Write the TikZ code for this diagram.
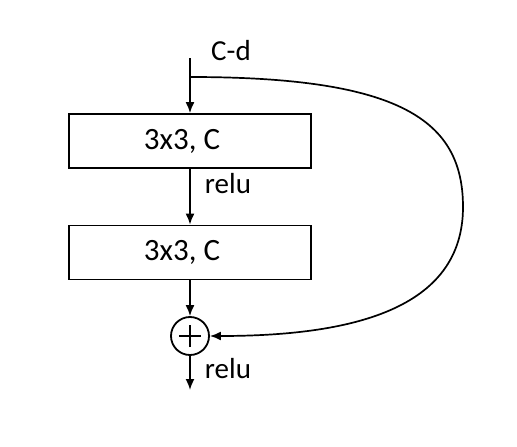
\documentclass[tikz,border=0pt]{standalone}
\usepackage{fontspec}
\setmainfont{Carlito}
\usetikzlibrary{arrows.meta}
\begin{document}
\begin{tikzpicture}[x=1pt,y=-1pt,
  line width=1.7pt,
  arr/.style={-{Latex[length=11pt,width=9pt]}},
  convbox/.style={draw,line width=1.8pt,minimum width=242pt,minimum height=54pt,inner sep=0pt,font=\fontsize{31}{36}\selectfont},
  lbl/.style={inner sep=0pt,font=\fontsize{29}{34}\selectfont},
  sumnode/.style={draw,circle,line width=1.8pt,minimum size=38pt,inner sep=0pt}]
\fill[white] (0,0) rectangle (517,447);
\useasboundingbox (0,0) rectangle (517,447);
\coordinate (in) at (190,58);
\coordinate (split) at (190,77);
\node[convbox] (b1) at (190,141) {\kern-16pt 3x3, C};
\node[convbox] (b2) at (190,252.5) {\kern-16pt 3x3, C};
\node[sumnode] (sum) at (190,336) {};
\coordinate (out) at (190,390);
\node[lbl] (cd) at (231,51) {C-d};
\node[lbl] (r1) at (228,184) {relu};
\node[lbl] (r2) at (228,369) {relu};
\draw[arr] (in) -- (b1.north);
\draw[arr] (b1.south) -- (b2.north);
\draw[arr] (b2.south) -- (sum.north);
\draw[arr] (sum.south) -- (out);
\draw[line width=1.5pt] ([xshift=-11pt]sum.center) -- ([xshift=11pt]sum.center)
  ([yshift=-11pt]sum.center) -- ([yshift=11pt]sum.center);
\draw[arr] (split) .. controls (400,77) and (463,120) .. (463,207)
  .. controls (463,310) and (350,336) .. (sum.east);
\end{tikzpicture}
\end{document}
